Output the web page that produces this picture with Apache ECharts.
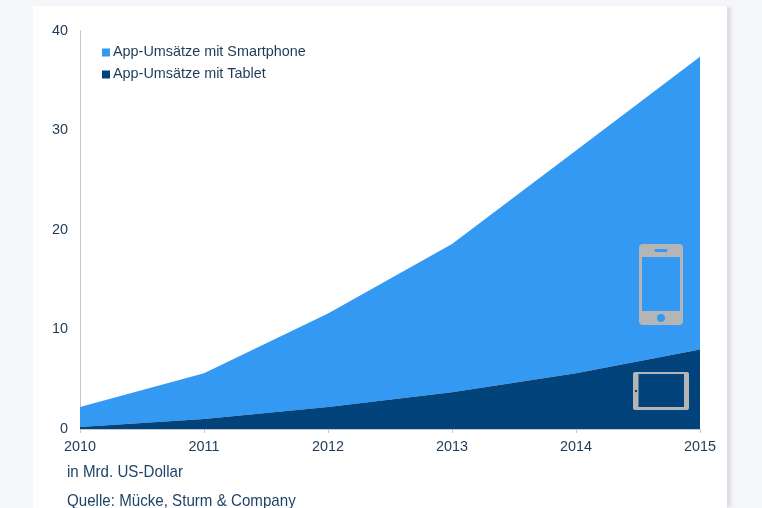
<!DOCTYPE html>
<html>
<head>
<meta charset="utf-8">
<style>
  html, body { margin: 0; padding: 0; background: #f4f6fa; }
  #card { position: absolute; left: 33px; top: 6px; width: 694px; height: 502px; background: #fff; box-shadow: 5px 0 3px -1px #dcddde; }
  #chart { position: absolute; left: 0; top: 0; width: 762px; height: 508px; }
</style>
<script src="https://cdn.jsdelivr.net/npm/echarts@6/dist/echarts.min.js"></script>
</head>
<body>
<div id="card"></div>
<div id="chart"></div>
<script>
const years = ['2010', '2011', '2012', '2013', '2014', '2015'];
const tabletRevenue = [0.2, 1.0, 2.2, 3.7, 5.6, 8.0];
const smartphoneRevenue = [2.0, 4.6, 9.4, 14.9, 22.4, 29.4];
const smartphoneName = 'App-Umsätze mit Smartphone';
const tabletName = 'App-Umsätze mit Tablet';
const unitNote = 'in Mrd. US-Dollar';
const sourceNote = 'Quelle: Mücke, Sturm & Company';

const labelColor = '#1d3a57';
const noteColor = '#1f4468';
const iconGrey = '#b5b5b5';
const phoneBlue = '#3399f3';
const tabletBlue = '#03437c';

const chart = echarts.init(document.getElementById('chart'), null, { renderer: 'canvas' });

// Device pictograms sitting on top of the two areas
const phoneIcon = {
  type: 'group', x: 639, y: 244,
  children: [
    { type: 'rect', z: 10, shape: { x: 0, y: 0, width: 44, height: 81, r: 4 }, style: { fill: iconGrey } },
    { type: 'rect', z: 11, shape: { x: 3, y: 13, width: 38, height: 54 }, style: { fill: phoneBlue } },
    { type: 'rect', z: 11, shape: { x: 15.5, y: 5, width: 13, height: 3, r: 1.5 }, style: { fill: phoneBlue } },
    { type: 'circle', z: 11, shape: { cx: 22, cy: 74, r: 4 }, style: { fill: phoneBlue } }
  ]
};
const tabletIcon = {
  type: 'group', x: 633, y: 372,
  children: [
    { type: 'rect', z: 10, shape: { x: 0, y: 0, width: 56, height: 38, r: 2 }, style: { fill: iconGrey } },
    { type: 'rect', z: 11, shape: { x: 5.5, y: 2, width: 45.5, height: 33 }, style: { fill: tabletBlue } },
    { type: 'circle', z: 11, shape: { cx: 3, cy: 19, r: 1.2 }, style: { fill: '#333c48' } }
  ]
};
const noteStyle = { fill: noteColor, fontFamily: '"Liberation Sans", sans-serif', fontSize: 17 };

chart.setOption({
  animation: false,
  backgroundColor: 'transparent',
  grid: { left: 80, right: 62, top: 31, bottom: 79 },
  legend: {
    orient: 'vertical',
    left: 97, top: 40,
    itemWidth: 8, itemHeight: 8, itemGap: 7,
    icon: 'rect',
    data: [smartphoneName, tabletName],
    selectedMode: false,
    textStyle: { color: labelColor, fontFamily: '"Liberation Sans", sans-serif', fontSize: 14.4, padding: [0, 0, 0, -2], lineHeight: 15 }
  },
  xAxis: {
    type: 'category',
    data: years,
    boundaryGap: false,
    axisLine: { lineStyle: { color: '#c4c7ca', width: 1 } },
    axisTick: { length: 4, lineStyle: { color: '#c4c7ca' } },
    axisLabel: { color: labelColor, fontFamily: '"Liberation Sans", sans-serif', fontSize: 14.4, margin: 11 },
    splitLine: { show: false }
  },
  yAxis: {
    type: 'value',
    min: 0, max: 40, interval: 10,
    axisLine: { show: true, lineStyle: { color: '#c4c7ca', width: 1 } },
    axisTick: { show: false },
    axisLabel: { color: labelColor, fontFamily: '"Liberation Sans", sans-serif', fontSize: 14.4, margin: 12, lineHeight: 18, padding: [3, 0, 0, 0] },
    splitLine: { show: false }
  },
  series: [
    {
      name: tabletName, type: 'line', stack: 'revenue', data: tabletRevenue,
      symbol: 'none', lineStyle: { width: 0 },
      itemStyle: { color: tabletBlue }, areaStyle: { color: tabletBlue, opacity: 1 }, z: 3
    },
    {
      name: smartphoneName, type: 'line', stack: 'revenue', data: smartphoneRevenue,
      symbol: 'none', lineStyle: { width: 0 },
      itemStyle: { color: phoneBlue }, areaStyle: { color: phoneBlue, opacity: 1 }, z: 2
    }
  ],
  graphic: [
    phoneIcon,
    tabletIcon,
    { type: 'text', x: 67, y: 464, scaleX: 0.89, style: Object.assign({ text: unitNote }, noteStyle) },
    { type: 'text', x: 67, y: 493, scaleX: 0.89, style: Object.assign({ text: sourceNote }, noteStyle) }
  ]
});
</script>
</body>
</html>
